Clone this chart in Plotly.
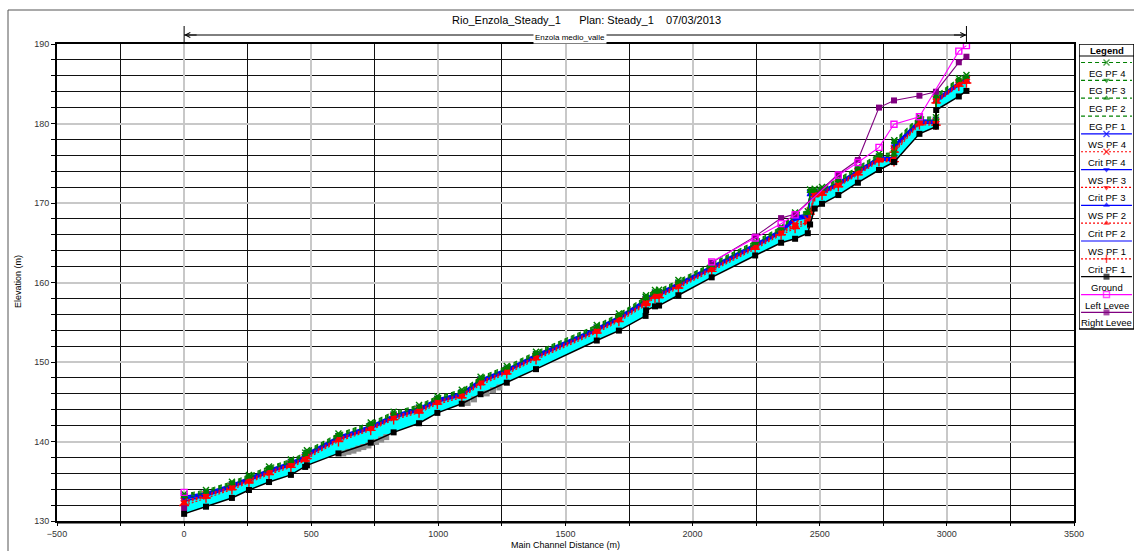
import plotly.graph_objects as go

# ---------------------------------------------------------------- data
# Main channel stations (m) of the surveyed cross sections
STATIONS = [0, 86, 188, 255, 334, 420, 476, 483, 607, 734, 824, 924, 996, 1092,
            1166, 1269, 1384, 1623, 1710, 1815, 1817, 1852, 1868, 1944, 2075,
            2246, 2348, 2403, 2453, 2462, 2480, 2509, 2573, 2650, 2733, 2792,
            2793, 2892, 2957, 2958, 3047, 3077]

GROUND = [130.9, 131.8, 132.9, 133.9, 134.9, 135.8, 136.8, 137.0, 138.5, 139.85,
          141.15, 142.3, 143.6, 144.75, 145.95, 147.4, 149.1, 152.7, 153.95, 155.8,
          156.5, 157.0, 157.1, 158.4, 160.65, 163.4, 165.0, 165.5, 166.2, 167.3,
          169.3, 169.9, 171.0, 172.55, 174.15, 175.15, 175.15, 178.7, 179.6, 181.7,
          183.4, 184.1]

WS_PF4 = [133.1, 133.55, 134.6, 135.45, 136.5, 137.4, 138.25, 138.55, 140.65, 142.0,
          143.35, 144.25, 145.35, 146.15, 147.8, 149.15, 150.95, 154.3, 155.75, 157.85,
          158.05, 158.7, 158.75, 159.95, 162.05, 164.85, 166.65, 168.3, 168.6, 171.3,
          171.4, 171.6, 172.6, 174.15, 175.8, 175.7, 177.3, 180.45, 180.4, 183.1,
          185.2, 185.65]
WS_PF3 = [132.9, 133.43, 134.48, 135.33, 136.38, 137.28, 138.13, 138.43, 140.53, 141.88,
          143.23, 144.13, 145.23, 146.03, 147.68, 149.03, 150.83, 154.18, 155.63, 157.73,
          157.93, 158.58, 158.63, 159.83, 161.93, 164.73, 166.53, 168.15, 168.45, 171.18,
          171.28, 171.48, 172.48, 174.03, 175.68, 175.58, 177.18, 180.33, 180.28, 182.98,
          185.08, 185.53]
WS_PF2 = [132.75, 133.3, 134.35, 135.2, 136.25, 137.15, 138.0, 138.3, 140.4, 141.75,
          143.1, 144.0, 145.1, 145.9, 147.55, 148.9, 150.7, 154.05, 155.5, 157.6,
          157.8, 158.45, 158.5, 159.7, 161.8, 164.6, 166.4, 168.0, 168.3, 171.05,
          171.15, 171.35, 172.35, 173.9, 175.55, 175.45, 177.05, 180.2, 180.15, 182.85,
          184.95, 185.4]
WS_PF1 = [132.5, 133.15, 134.2, 135.05, 136.1, 137.0, 137.85, 138.15, 140.25, 141.6,
          142.95, 143.85, 144.95, 145.75, 147.4, 148.75, 150.55, 153.9, 155.35, 157.45,
          157.65, 158.3, 158.35, 159.55, 161.65, 164.45, 166.25, 167.85, 168.15, 170.9,
          171.0, 171.2, 172.2, 173.75, 175.4, 175.3, 176.9, 180.05, 180.0, 182.7,
          184.8, 185.25]

EG_PF4 = [133.4, 133.9, 134.95, 135.8, 136.85, 137.75, 138.6, 138.9, 141.0, 142.4,
          143.75, 144.6, 145.7, 146.5, 148.15, 149.5, 151.3, 154.65, 156.1, 158.2,
          158.4, 159.05, 159.1, 160.3, 162.4, 165.2, 167.0, 168.8, 168.95, 171.7,
          171.8, 172.0, 173.05, 174.55, 176.2, 176.3, 177.9, 180.85, 180.8, 183.6,
          185.7, 186.1]
EG_PF3 = [133.25, 133.78, 134.83, 135.68, 136.73, 137.63, 138.48, 138.78, 140.88, 142.28,
          143.63, 144.48, 145.58, 146.38, 148.03, 149.38, 151.18, 154.53, 155.98, 158.08,
          158.28, 158.93, 158.98, 160.18, 162.28, 165.08, 166.88, 168.68, 168.83, 171.58,
          171.68, 171.88, 172.93, 174.43, 176.08, 176.18, 177.78, 180.73, 180.68, 183.48,
          185.58, 185.98]
EG_PF2 = [133.1, 133.65, 134.7, 135.55, 136.6, 137.5, 138.35, 138.65, 140.75, 142.15,
          143.5, 144.35, 145.45, 146.25, 147.9, 149.25, 151.05, 154.4, 155.85, 157.95,
          158.15, 158.8, 158.85, 160.05, 162.15, 164.95, 166.75, 168.55, 168.7, 171.45,
          171.55, 171.75, 172.8, 174.3, 175.95, 176.05, 177.65, 180.6, 180.55, 183.35,
          185.45, 185.85]
EG_PF1 = [132.85, 133.5, 134.55, 135.4, 136.45, 137.35, 138.2, 138.5, 140.6, 142.0,
          143.35, 144.2, 145.3, 146.1, 147.75, 149.1, 150.9, 154.25, 155.7, 157.8,
          158.0, 158.65, 158.7, 159.9, 162.0, 164.8, 166.6, 168.4, 168.55, 171.3,
          171.4, 171.6, 172.65, 174.15, 175.8, 175.9, 177.5, 180.45, 180.4, 183.2,
          185.3, 185.7]

CRIT_PF4 = [132.5, 133.3, 134.35, 135.2, 136.25, 137.15, 137.95, 138.25, 140.4, 141.8,
            143.15, 144.0, 145.1, 145.9, 147.55, 148.9, 150.7, 154.05, 155.5, 157.5,
            157.7, 158.45, 158.5, 159.7, 161.8, 164.6, 166.4, 167.4, 167.9, 169.0,
            171.2, 171.4, 172.45, 173.95, 175.6, 175.6, 176.8, 180.25, 180.2, 183.0,
            185.1, 185.5]
CRIT_PF3 = [132.35, 133.18, 134.23, 135.08, 136.13, 137.03, 137.83, 138.13, 140.28, 141.68,
            143.03, 143.88, 144.98, 145.78, 147.43, 148.78, 150.58, 153.93, 155.38, 157.38,
            157.58, 158.33, 158.38, 159.58, 161.68, 164.48, 166.28, 167.25, 167.75, 168.9,
            171.08, 171.28, 172.33, 173.83, 175.48, 175.48, 176.68, 180.13, 180.08, 182.88,
            184.98, 185.38]
CRIT_PF2 = [132.2, 133.05, 134.1, 134.95, 136.0, 136.9, 137.7, 138.0, 140.15, 141.55,
            142.9, 143.75, 144.85, 145.65, 147.3, 148.65, 150.45, 153.8, 155.25, 157.25,
            157.45, 158.2, 158.25, 159.45, 161.55, 164.35, 166.15, 167.05, 167.6, 168.75,
            170.95, 171.15, 172.2, 173.7, 175.35, 175.35, 176.55, 180.0, 179.95, 182.75,
            184.85, 185.25]
CRIT_PF1 = [131.95, 132.9, 133.95, 134.8, 135.85, 136.75, 137.55, 137.85, 140.0, 141.4,
            142.75, 143.6, 144.7, 145.5, 147.15, 148.5, 150.3, 153.65, 155.1, 157.1,
            157.3, 158.05, 158.1, 159.3, 161.4, 164.2, 166.0, 166.8, 167.4, 168.6,
            170.8, 171.0, 172.05, 173.55, 175.2, 175.2, 176.4, 179.85, 179.8, 182.6,
            184.7, 185.1]

# Levees (None = no levee defined between those sections)
LEFT_LEVEE_X = [0, 86, 2075, 2246, 2348, 2403, 2573, 2650, 2733, 2792, 2892, 3047, 3077]
LEFT_LEVEE_Z = [133.6, None, 162.6, 165.6, 167.4, 168.5, 173.5, 175.1, 177.0, 179.9,
                180.85, 189.1, 189.8]
RIGHT_LEVEE_X = [0, 86, 2075, 2246, 2348, 2403, 2573, 2650, 2733, 2792, 2892, 2957,
                 3047, 3077]
RIGHT_LEVEE_Z = [131.6, None, 162.5, 165.8, 168.1, 168.6, 173.65, 175.4, 182.0, 182.9,
                 183.5, 184.0, 187.7, 188.4]

# Interpolated cross sections (ground only)
INTERP_X = [626, 646, 666, 685, 705, 725, 755, 775, 795, 1115, 1140, 1190, 1215, 1240]
INTERP_Z = [138.5, 138.7, 138.85, 139.1, 139.3, 139.5, 139.95, 140.25, 140.55,
            144.85, 145.3, 146.05, 146.45, 146.8]

REACH_NAME = "Enzola medio_valle"
REACH_START, REACH_END = 0, 3077
TITLE = "Rio_Enzola_Steady_1\u00a0\u00a0\u00a0\u00a0\u00a0\u00a0Plan: Steady_1\u00a0\u00a0\u00a0\u00a007/03/2013"

X_RANGE = [-500, 3500]
Y_RANGE = [130, 190]

# ---------------------------------------------------------------- styles
GREEN, BLUE, RED = "#008000", "#0000FF", "#FF0000"
BLACK, MAGENTA, PURPLE = "#000000", "#FF00FF", "#800080"
FONT = "Liberation Sans, Arial, sans-serif"

STYLE = {
    "EG PF 4": (GREEN, "4px,3px", "x-thin"),
    "EG PF 3": (GREEN, "4px,3px", "triangle-down"),
    "EG PF 2": (GREEN, "4px,3px", "triangle-up"),
    "EG PF 1": (GREEN, "4px,3px", None),
    "WS PF 4": (BLUE, "solid", "x-thin"),
    "Crit PF 4": (RED, "2px,2px", "x-thin"),
    "WS PF 3": (BLUE, "solid", "triangle-down"),
    "Crit PF 3": (RED, "2px,2px", "triangle-down"),
    "WS PF 2": (BLUE, "solid", "triangle-up"),
    "Crit PF 2": (RED, "2px,2px", "triangle-up"),
    "WS PF 1": (BLUE, "solid", None),
    "Crit PF 1": (RED, "2px,2px", "cross-thin"),
    "Ground": (BLACK, "solid", "square"),
    "Left Levee": (MAGENTA, "solid", "square-open"),
    "Right Levee": (PURPLE, "solid", "square"),
}
LEGEND_ORDER = list(STYLE.keys())


def marker_for(color, symbol, size=6):
    thin = symbol.endswith("-thin") or symbol.endswith("-open")
    return dict(symbol=symbol, size=size, color=color,
                line=dict(color=color, width=1.4 if thin else 0))


def series_trace(name, xs, ys, width=1.2, axes=("x", "y"), size=6):
    color, dash, symbol = STYLE[name]
    kw = dict(x=xs, y=ys, name=name, line=dict(color=color, width=width, dash=dash),
              connectgaps=False, showlegend=False, xaxis=axes[0], yaxis=axes[1])
    if symbol:
        kw.update(mode="lines+markers", marker=marker_for(color, symbol, size))
    else:
        kw.update(mode="lines")
    return go.Scatter(**kw)


fig = go.Figure()

# water body: filled between the ground and the highest water surface
fig.add_trace(go.Scatter(x=STATIONS, y=GROUND, mode="lines", line=dict(width=0),
                         showlegend=False, hoverinfo="skip"))
fig.add_trace(go.Scatter(x=STATIONS, y=WS_PF4, mode="lines", line=dict(width=0),
                         fill="tonexty", fillcolor="#00FFFF",
                         showlegend=False, hoverinfo="skip"))

for name, ys in [("WS PF 1", WS_PF1), ("WS PF 2", WS_PF2),
                 ("WS PF 3", WS_PF3), ("WS PF 4", WS_PF4)]:
    fig.add_trace(series_trace(name, STATIONS, ys, width=1.4))
for name, ys in [("Crit PF 1", CRIT_PF1), ("Crit PF 2", CRIT_PF2),
                 ("Crit PF 3", CRIT_PF3), ("Crit PF 4", CRIT_PF4)]:
    fig.add_trace(series_trace(name, STATIONS, ys, width=1.1, size=7))
for name, ys in [("EG PF 1", EG_PF1), ("EG PF 2", EG_PF2),
                 ("EG PF 3", EG_PF3), ("EG PF 4", EG_PF4)]:
    fig.add_trace(series_trace(name, STATIONS, ys, width=1.1))

fig.add_trace(series_trace("Right Levee", RIGHT_LEVEE_X, RIGHT_LEVEE_Z, width=1.1))
fig.add_trace(series_trace("Left Levee", LEFT_LEVEE_X, LEFT_LEVEE_Z, width=1.1))

# ground at interpolated sections
fig.add_trace(go.Scatter(x=INTERP_X, y=INTERP_Z, mode="markers",
                         marker=dict(symbol="square", size=6, color="#8c8c8c"),
                         showlegend=False, hoverinfo="skip"))
fig.add_trace(series_trace("Ground", STATIONS, GROUND, width=1.5))

# ---------------------------------------------------------------- legend panel
LEG_X0, LEG_X1 = 1079, 1133
LEG_TOP, LEG_BOTTOM = 44, 329
LEG_STEP = 17.85
leg_mid = (LEG_X0 + LEG_X1) / 2
shapes = [
    dict(type="rect", xref="x2", yref="y2", x0=LEG_X0, x1=LEG_X1, y0=LEG_TOP,
         y1=LEG_BOTTOM, line=dict(color="#000000", width=1.5)),
    dict(type="line", xref="x2", yref="y2", x0=LEG_X0, x1=LEG_X1, y0=56, y1=56,
         line=dict(color="#000000", width=1.2)),
]
annotations = [
    dict(xref="x2", yref="y2", x=leg_mid, y=50.5, text="<b>Legend</b>",
         xanchor="center", yanchor="middle",
         showarrow=False, font=dict(family=FONT, size=9.5, color="#000")),
]
for i, name in enumerate(LEGEND_ORDER):
    color, dash, symbol = STYLE[name]
    ly = 62.5 + LEG_STEP * i
    sample = dict(x=[LEG_X0 + 2, leg_mid, LEG_X1 - 2], y=[ly, ly, ly],
                  line=dict(color=color, width=1.2, dash=dash),
                  showlegend=False, hoverinfo="skip", xaxis="x2", yaxis="y2")
    if symbol:
        m = marker_for(color, symbol)
        m["size"] = [0, 6, 0]
        m["line"]["width"] = [0, m["line"]["width"], 0]
        sample.update(mode="lines+markers", marker=m)
    else:
        sample.update(mode="lines")
    fig.add_trace(go.Scatter(**sample))
    annotations.append(dict(xref="x2", yref="y2", x=leg_mid, y=ly + 10.5, text=name,
                            xanchor="center", yanchor="middle", showarrow=False,
                            font=dict(family=FONT, size=9.5, color="#000")))

# ---------------------------------------------------------------- frame, title, reach
PLOT_L, PLOT_R, PLOT_T, PLOT_B, W, H = 57, 1074, 44, 521, 1134, 551
px_w = W - PLOT_L


def px(xp):
    return (xp - PLOT_L) / px_w


def py(yp):
    return (PLOT_B - yp) / (PLOT_B - PLOT_T)


shapes += [
    # outer frame
    dict(type="line", xref="paper", yref="paper", x0=px(8), x1=px(W), y0=py(10),
         y1=py(10), line=dict(color="#555555", width=1)),
    dict(type="line", xref="paper", yref="paper", x0=px(8), x1=px(8), y0=py(10),
         y1=py(H), line=dict(color="#555555", width=1)),
    # reach extent bar
    dict(type="line", xref="x", yref="paper", x0=REACH_START, x1=REACH_END,
         y0=py(35), y1=py(35), line=dict(color="#000", width=1)),
    dict(type="line", xref="x", yref="paper", x0=REACH_START, x1=REACH_START,
         y0=py(26), y1=py(44), line=dict(color="#000", width=1)),
    dict(type="line", xref="x", yref="paper", x0=REACH_END, x1=REACH_END,
         y0=py(26), y1=py(44), line=dict(color="#000", width=1)),
    # doubled bottom border
    dict(type="line", xref="x", yref="paper", x0=X_RANGE[0], x1=X_RANGE[1],
         y0=py(523), y1=py(523), line=dict(color="#000", width=1.2)),
]
annotations += [
    dict(xref="x", yref="paper", x=REACH_START, y=py(35), ax=14, ay=0,
         text="", showarrow=True, arrowhead=5, arrowsize=1, arrowwidth=1,
         arrowcolor="#000"),
    dict(xref="x", yref="paper", x=REACH_END, y=py(35), ax=-14, ay=0,
         text="", showarrow=True, arrowhead=5, arrowsize=1, arrowwidth=1,
         arrowcolor="#000"),
    dict(xref="paper", yref="paper", x=px(570), y=py(37), text=REACH_NAME,
         xanchor="center", yanchor="middle",
         showarrow=False, bgcolor="#FFFFFF", borderpad=1,
         font=dict(family=FONT, size=8, color="#000")),
    dict(xref="paper", yref="paper", x=px(586), y=py(19.5), text=TITLE,
         xanchor="center", yanchor="middle",
         showarrow=False, font=dict(family=FONT, size=11, color="#000")),
    dict(xref="paper", yref="paper", x=px(565), y=py(544.5), text="Main Channel Distance (m)",
         xanchor="center", yanchor="middle",
         showarrow=False, font=dict(family=FONT, size=9, color="#000")),
    dict(xref="paper", yref="paper", x=px(18), y=py(282), text="Elevation (m)",
         xanchor="center", yanchor="middle",
         textangle=-90, showarrow=False, font=dict(family=FONT, size=9, color="#000")),
]

fig.update_layout(
    width=W, height=H,
    margin=dict(l=PLOT_L, r=0, t=PLOT_T, b=H - PLOT_B, autoexpand=False),
    paper_bgcolor="#FFFFFF", plot_bgcolor="#FFFFFF",
    showlegend=False,
    font=dict(family=FONT, size=9, color="#222"),
    xaxis=dict(domain=[0, (PLOT_R - PLOT_L) / px_w], range=X_RANGE, dtick=500,
               tick0=0, showgrid=True, gridcolor="#c8c8c8", gridwidth=1.5,
               minor=dict(dtick=250, showgrid=True, gridcolor="#111111",
                          gridwidth=1.3, ticks="outside", ticklen=3,
                          tickcolor="#000"),
               ticks="outside", ticklen=3, tickcolor="#000", automargin=False,
               showline=True, linecolor="#000", linewidth=2, mirror=True,
               zeroline=False, tickfont=dict(size=9, color="#333")),
    yaxis=dict(range=Y_RANGE, dtick=10, tick0=130, showgrid=True,
               gridcolor="#c8c8c8", gridwidth=1.5, automargin=False,
               minor=dict(dtick=2, showgrid=True, gridcolor="#111111",
                          gridwidth=1.3, ticks="outside", ticklen=4,
                          tickcolor="#000"),
               ticks="outside", ticklen=4, tickcolor="#000",
               showline=True, linecolor="#000", linewidth=2, mirror=True,
               zeroline=False, tickfont=dict(size=9, color="#333")),
    xaxis2=dict(domain=[px(LEG_X0), 1.0], range=[LEG_X0, LEG_X1], visible=False,
                anchor="y2", fixedrange=True, automargin=False),
    yaxis2=dict(domain=[0, 1], range=[PLOT_B, PLOT_T], visible=False, anchor="x2",
                fixedrange=True, automargin=False),
    shapes=shapes,
    annotations=annotations,
)

fig.write_html("out.html", config={"responsive": False})
